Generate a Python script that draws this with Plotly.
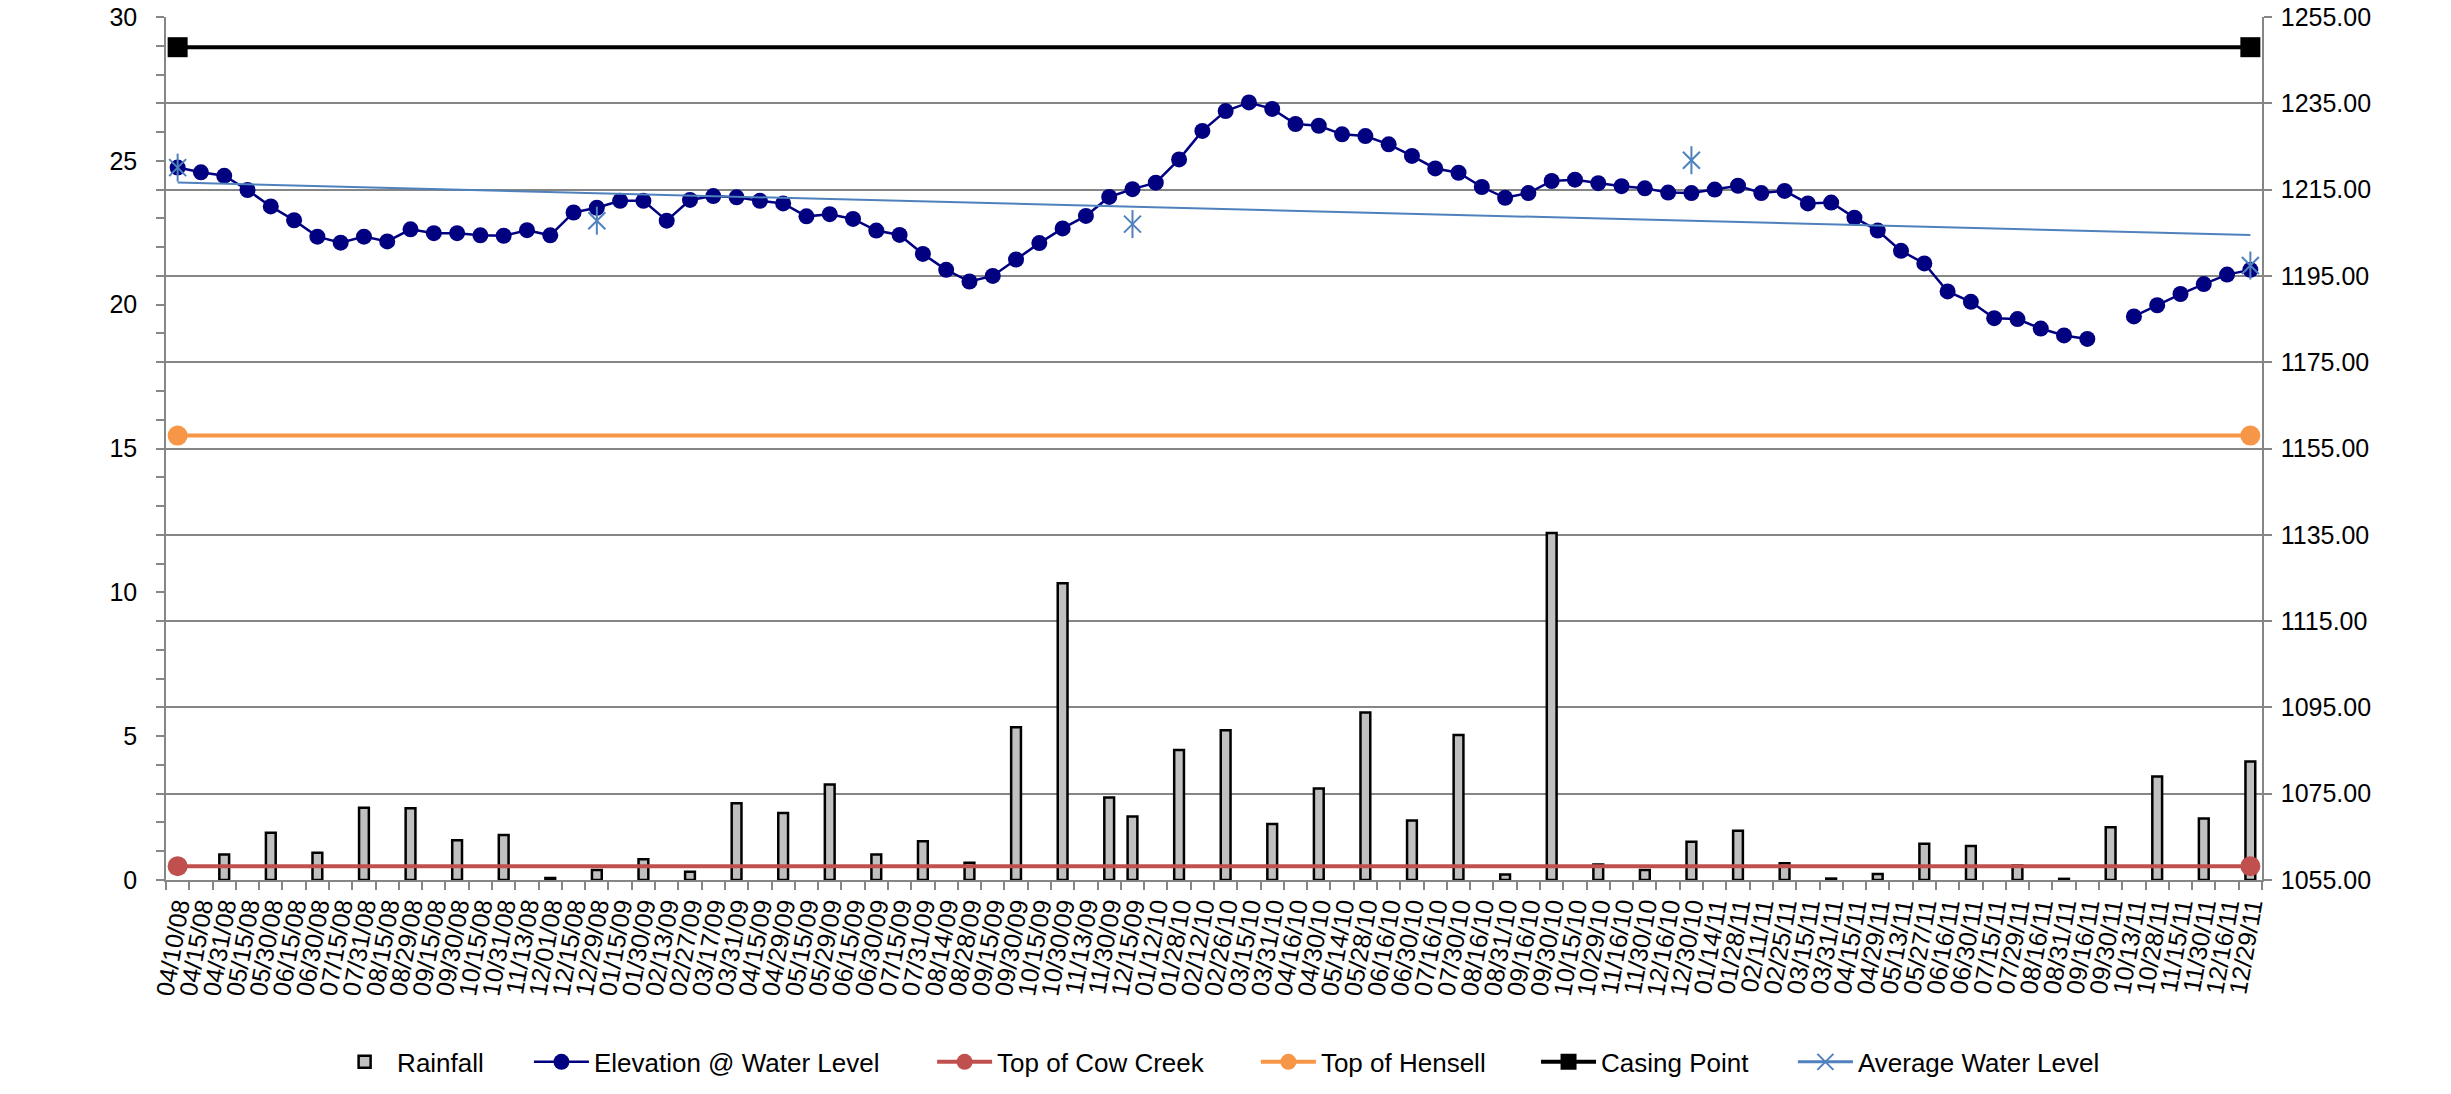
import numpy as np
import plotly.graph_objects as go

dates = [
    "04/10/08", "04/15/08", "04/31/08", "05/15/08", "05/30/08", "06/15/08", "06/30/08", "07/15/08",
    "07/31/08", "08/15/08", "08/29/08", "09/15/08", "09/30/08", "10/15/08", "10/31/08", "11/13/08",
    "12/01/08", "12/15/08", "12/29/08", "01/15/09", "01/30/09", "02/13/09", "02/27/09", "03/17/09",
    "03/31/09", "04/15/09", "04/29/09", "05/15/09", "05/29/09", "06/15/09", "06/30/09", "07/15/09",
    "07/31/09", "08/14/09", "08/28/09", "09/15/09", "09/30/09", "10/15/09", "10/30/09", "11/13/09",
    "11/30/09", "12/15/09", "01/12/10", "01/28/10", "02/12/10", "02/26/10", "03/15/10", "03/31/10",
    "04/16/10", "04/30/10", "05/14/10", "05/28/10", "06/16/10", "06/30/10", "07/16/10", "07/30/10",
    "08/16/10", "08/31/10", "09/16/10", "09/30/10", "10/15/10", "10/29/10", "11/16/10", "11/30/10",
    "12/16/10", "12/30/10", "01/14/11", "01/28/11", "02/11/11", "02/25/11", "03/15/11", "03/31/11",
    "04/15/11", "04/29/11", "05/13/11", "05/27/11", "06/16/11", "06/30/11", "07/15/11", "07/29/11",
    "08/16/11", "08/31/11", "09/16/11", "09/30/11", "10/13/11", "10/28/11", "11/15/11", "11/30/11",
    "12/16/11", "12/29/11",
]

rainfall = [
    None, None, 0.89, None, 1.64, None, 0.95, None, 2.51, None,
    2.49, None, 1.38, None, 1.56, None, 0.07, None, 0.35, None,
    0.72, None, 0.29, None, 2.67, None, 2.33, None, 3.32, None,
    0.89, None, 1.35, None, 0.60, None, 5.31, None, 10.32, None,
    2.87, 2.21, None, 4.52, None, 5.21, None, 1.95, None, 3.18,
    None, 5.82, None, 2.07, None, 5.04, None, 0.19, None, 12.06,
    None, 0.54, None, 0.35, None, 1.33, None, 1.71, None, 0.58,
    None, 0.05, None, 0.21, None, 1.26, None, 1.18, None, 0.50,
    None, 0.04, None, 1.83, None, 3.60, None, 2.14, None, 4.12,
]

elevation = [
    1220.1, 1219.0, 1218.2, 1214.9, 1211.1, 1207.9, 1204.1, 1202.7, 1204.1, 1203.0,
    1205.8, 1204.9, 1204.9, 1204.4, 1204.3, 1205.6, 1204.4, 1209.7, 1210.8, 1212.4,
    1212.4, 1207.8, 1212.6, 1213.5, 1213.2, 1212.4, 1211.8, 1208.8, 1209.3, 1208.2,
    1205.5, 1204.5, 1200.1, 1196.4, 1193.7, 1195.0, 1198.8, 1202.6, 1206.0, 1208.9,
    1213.3, 1215.1, 1216.6, 1222.0, 1228.6, 1233.2, 1235.2, 1233.7, 1230.2, 1229.8,
    1227.8, 1227.4, 1225.5, 1222.8, 1219.9, 1218.9, 1215.6, 1213.1, 1214.2, 1217.0,
    1217.3, 1216.5, 1215.8, 1215.3, 1214.3, 1214.2, 1215.0, 1215.9, 1214.2, 1214.7,
    1211.8, 1212.0, 1208.5, 1205.5, 1200.8, 1197.9, 1191.4, 1189.0, 1185.2, 1185.0,
    1182.8, 1181.2, 1180.4, None, 1185.6, 1188.2, 1190.8, 1193.1, 1195.3, 1196.4,
]

avg_dates = ["04/10/08", "12/29/08", "12/15/09", "12/30/10", "12/29/11"]
avg_level = [1220.1, 1207.8, 1207.0, 1221.8, 1197.4]

cow_creek = 1058.2
hensell = 1158.0
casing_point = 1248.0

right_ticks = [1055, 1075, 1095, 1115, 1135, 1155, 1175, 1195, 1215, 1235, 1255]
left_ticks = [0, 5, 10, 15, 20, 25, 30]

# average water level on the full category list (gaps between readings)
avg_full = [None] * len(dates)
for d, v in zip(avg_dates, avg_level):
    avg_full[dates.index(d)] = v

# linear trendline of the average water level (category index as x)
idx = [dates.index(d) for d in avg_dates]
slope, intercept = np.polyfit(idx, avg_level, 1)
trend_x = [dates[0], dates[-1]]
trend_y = [intercept + slope * 0, intercept + slope * (len(dates) - 1)]

GRAY = "#868686"
FONT = "Arial, Liberation Sans, sans-serif"
W, H = 2451, 1094
TICK_FS = 25
LEG_FS = 26

fig = go.Figure()

fig.add_trace(go.Bar(
    x=dates, y=rainfall, name="Rainfall", yaxis="y", legend="legend",
    width=0.42,
    marker=dict(color="#C0C0C0", line=dict(color="black", width=2.5)),
))

fig.add_trace(go.Scatter(
    x=dates, y=elevation, name="Elevation @ Water Level", yaxis="y2", legend="legend2",
    mode="lines+markers", connectgaps=False,
    line=dict(color="#000080", width=2.5),
    marker=dict(symbol="circle", size=16, color="#000080"),
))

fig.add_trace(go.Scatter(
    x=[dates[0], dates[-1]], y=[cow_creek, cow_creek], name="Top of Cow Creek", yaxis="y2",
    legend="legend3", mode="lines+markers",
    line=dict(color="#C0504D", width=4),
    marker=dict(symbol="circle", size=20, color="#C0504D"),
))

fig.add_trace(go.Scatter(
    x=[dates[0], dates[-1]], y=[hensell, hensell], name="Top of Hensell", yaxis="y2",
    legend="legend4", mode="lines+markers",
    line=dict(color="#F79646", width=4),
    marker=dict(symbol="circle", size=20, color="#F79646"),
))

fig.add_trace(go.Scatter(
    x=[dates[0], dates[-1]], y=[casing_point, casing_point], name="Casing Point", yaxis="y2",
    legend="legend5", mode="lines+markers",
    line=dict(color="black", width=4),
    marker=dict(symbol="square", size=20, color="black"),
))

fig.add_trace(go.Scatter(
    x=trend_x, y=trend_y, yaxis="y2", mode="lines", showlegend=False, hoverinfo="skip",
    line=dict(color="#4F81BD", width=2),
))

fig.add_trace(go.Scatter(
    x=dates, y=avg_full, name="Average Water Level", yaxis="y2", legend="legend6",
    mode="lines+markers", connectgaps=False, legendgroup="avg",
    line=dict(color="#4F81BD", width=3),
    marker=dict(symbol="x-thin-open", size=17, color="#4F81BD", line=dict(color="#4F81BD", width=2)),
))

fig.add_trace(go.Scatter(
    x=avg_dates, y=avg_level, yaxis="y2", mode="markers", showlegend=False,
    legendgroup="avg", hoverinfo="skip",
    marker=dict(symbol="line-ns-open", size=20, color="#4F81BD", line=dict(color="#4F81BD", width=2)),
))

# legend entry positions (container fractions)
leg_x = [0.1355, 0.2158, 0.3803, 0.5124, 0.6267, 0.7315]
leg_y = 0.0293

def legend_box(x):
    return dict(
        orientation="h", x=x, xanchor="left", xref="container",
        y=leg_y, yanchor="middle", yref="container",
        font=dict(family=FONT, size=LEG_FS, color="black"),
        itemwidth=55, bgcolor="rgba(0,0,0,0)",
    )

fig.update_layout(
    width=W, height=H,
    margin=dict(l=166, r=189, t=17, b=214, autoexpand=False),
    paper_bgcolor="white", plot_bgcolor="white",
    font=dict(family=FONT, size=TICK_FS, color="black"),
    showlegend=True,
    legend=legend_box(leg_x[0]),
    legend2=legend_box(leg_x[1]),
    legend3=legend_box(leg_x[2]),
    legend4=legend_box(leg_x[3]),
    legend5=legend_box(leg_x[4]),
    legend6=legend_box(leg_x[5]),
    xaxis=dict(
        type="category", categoryorder="array", categoryarray=dates,
        range=[-0.5, len(dates) - 0.5],
        tickmode="linear", tick0=0, dtick=1,
        tickangle=-80, ticks="outside", tickson="boundaries", ticklen=8,
        tickcolor=GRAY, tickwidth=1.5,
        showline=True, linecolor=GRAY, linewidth=1.5,
        showgrid=False, tickfont=dict(size=TICK_FS), automargin=False,
    ),
    yaxis=dict(
        range=[0, 30], tickvals=left_ticks, ticks="outside", ticklen=8,
        tickcolor=GRAY, tickwidth=1.5,
        minor=dict(dtick=1, ticks="outside", ticklen=8, tickcolor=GRAY, tickwidth=1.5, showgrid=False),
        showgrid=False, zeroline=False,
        showline=True, linecolor=GRAY, linewidth=1.5,
        tickfont=dict(size=TICK_FS), automargin=False,
        ticklabeloverflow="allow", ticklabelstandoff=14,
    ),
    yaxis2=dict(
        overlaying="y", side="right",
        range=[1055, 1255], tickvals=right_ticks, tickformat=".2f",
        ticks="outside", ticklen=8, tickcolor=GRAY, tickwidth=1.5,
        showgrid=True, gridcolor=GRAY, gridwidth=1.5, zeroline=False,
        showline=True, linecolor=GRAY, linewidth=1.5,
        tickfont=dict(size=TICK_FS), automargin=False,
        ticklabeloverflow="allow", ticklabelstandoff=4,
    ),
)

fig.write_html(
    "out.html",
    config={"displayModeBar": False},
    post_script="document.body.style.margin='0px';document.body.style.overflow='hidden';",
)
